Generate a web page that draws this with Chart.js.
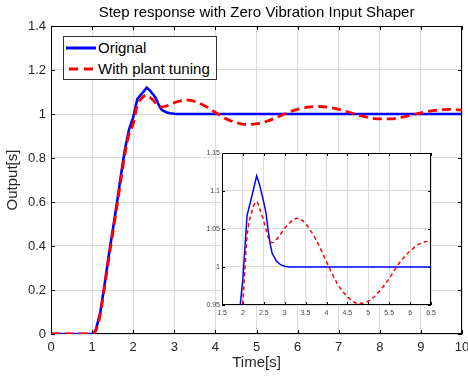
<!DOCTYPE html>
<html>
<head>
<meta charset="utf-8">
<script src="https://cdn.jsdelivr.net/npm/chart.js@4.4.1/dist/chart.umd.min.js"></script>
<style>
  body { margin: 0; background: #fff; font-family: "Liberation Sans", Arial, sans-serif; }
  #wrap { position: relative; width: 468px; height: 376px; }
  #mainChart { position: absolute; left: 0; top: 0; }
  #insetChart { position: absolute; left: 190px; top: 145px; }
  #legend {
    position: absolute; left: 63px; top: 36px; width: 152px; height: 42px;
    background: #fff; border: 1px solid #333; font-size: 15px; color: #000;
  }
  #legend .row { position: absolute; left: 0; height: 20px; line-height: 20px; }
  #legend svg { position: absolute; left: 1px; top: 0; }
  #legend span { position: absolute; left: 34px; top: 0; white-space: nowrap; }
</style>
</head>
<body>
<div id="wrap">
  <canvas id="mainChart" width="468" height="376"></canvas>
  <div id="legend">
    <div class="row" style="top:1px">
      <svg width="32" height="20"><line x1="1" y1="10" x2="31" y2="10" stroke="#0000ff" stroke-width="3"/></svg>
      <span>Orignal</span>
    </div>
    <div class="row" style="top:22px">
      <svg width="32" height="20"><line x1="4" y1="10" x2="31" y2="10" stroke="#ff0000" stroke-width="3" stroke-dasharray="9,6"/></svg>
      <span>With plant tuning</span>
    </div>
  </div>
  <canvas id="insetChart" width="250" height="175"></canvas>
</div>
<script>
// Time samples [s]
const time = [0, 0.9, 1.0, 1.05, 1.1, 1.2, 1.3, 1.4, 1.5, 1.6, 1.7, 1.8, 1.9, 2.0,
  2.1, 2.2, 2.33, 2.4, 2.5, 2.55, 2.6, 2.65, 2.7, 2.8, 2.9, 3.0, 3.1, 3.2, 3.3, 3.4,
  3.5, 3.75, 4.0, 4.25, 4.5, 4.75, 5.0, 5.25, 5.5, 5.75, 6.0, 6.25, 6.5, 6.75, 7.0,
  7.25, 7.5, 7.75, 8.0, 8.25, 8.5, 8.75, 9.0, 9.25, 9.5, 9.75, 10];

// Original response
const original = [0, 0, 0, 0.004, 0.025, 0.1, 0.22, 0.35, 0.47, 0.59, 0.72, 0.84, 0.93, 0.985,
  1.068, 1.09, 1.12, 1.108, 1.085, 1.072, 1.05, 1.031, 1.018, 1.008, 1.003, 1.001, 1.0, 1.0, 1.0, 1.0,
  1.0, 1.0, 1.0, 1.0, 1.0, 1.0, 1.0, 1.0, 1.0, 1.0, 1.0, 1.0, 1.0, 1.0, 1.0,
  1.0, 1.0, 1.0, 1.0, 1.0, 1.0, 1.0, 1.0, 1.0, 1.0, 1.0, 1.0];

// With plant tuning
const tuned = [0, 0, 0, 0.003, 0.02, 0.09, 0.21, 0.335, 0.455, 0.575, 0.70, 0.82, 0.91, 0.955,
  1.04, 1.07, 1.086, 1.077, 1.06, 1.05, 1.04, 1.034, 1.032, 1.036, 1.043, 1.051, 1.057, 1.062, 1.064, 1.062,
  1.057, 1.036, 1.007, 0.979, 0.961, 0.952, 0.955, 0.967, 0.985, 1.006, 1.021, 1.031, 1.034, 1.031, 1.021,
  1.008, 0.994, 0.983, 0.978, 0.978, 0.984, 0.994, 1.005, 1.014, 1.02, 1.021, 1.017];

const xTicks = [0, 1, 2, 3, 4, 5, 6, 7, 8, 9, 10];
const xTickLabels = ['0', '1', '2', '3', '4', '5', '6', '7', '8', '9', '10'];
const yTicks = [0, 0.2, 0.4, 0.6, 0.8, 1, 1.2, 1.4];
const yTickLabels = ['0', '0.2', '0.4', '0.6', '0.8', '1', '1.2', '1.4'];
const insetXTicks = [1.5, 2, 2.5, 3, 3.5, 4, 4.5, 5, 5.5, 6, 6.5];
const insetXTickLabels = ['1.5', '2', '2.5', '3', '3.5', '4', '4.5', '5', '5.5', '6', '6.5'];
const insetYTicks = [0.95, 1, 1.05, 1.1, 1.15];
const insetYTickLabels = ['0.95', '1', '1.05', '1.1', '1.15'];

const FONT = '"Liberation Sans", Arial, sans-serif';

function points(ys) {
  return time.map((t, i) => ({ x: t, y: ys[i] }));
}

// box frame with inward tick marks, MATLAB style
const framePlugin = {
  id: 'frame',
  beforeDraw(chart, args, opts) {
    if (!opts.fill) return;
    const a = chart.chartArea;
    chart.ctx.save();
    chart.ctx.fillStyle = opts.fill;
    chart.ctx.fillRect(a.left, a.top, a.width, a.height);
    chart.ctx.restore();
  },
  beforeDatasetsDraw(chart, args, opts) {
    const ctx = chart.ctx;
    const a = chart.chartArea;
    const x = chart.scales.x, y = chart.scales.y;
    const t = opts.tick || 4;
    ctx.save();
    ctx.strokeStyle = '#000';
    ctx.lineWidth = 1;
    ctx.strokeRect(a.left + 0.5, a.top + 0.5, a.width - 1, a.height - 1);
    ctx.beginPath();
    x.ticks.forEach(tk => {
      const px = Math.round(x.getPixelForValue(tk.value)) + 0.5;
      ctx.moveTo(px, a.bottom); ctx.lineTo(px, a.bottom - t);
      ctx.moveTo(px, a.top); ctx.lineTo(px, a.top + t);
    });
    y.ticks.forEach(tk => {
      const py = Math.round(y.getPixelForValue(tk.value)) + 0.5;
      ctx.moveTo(a.left, py); ctx.lineTo(a.left + t, py);
      ctx.moveTo(a.right, py); ctx.lineTo(a.right - t, py);
    });
    ctx.stroke();
    ctx.restore();
  }
};

function fixScale(size, isX) {
  return function(scale) {
    if (isX) scale.height = size; else scale.width = size;
    scale.paddingLeft = 0; scale.paddingRight = 0;
    scale.paddingTop = 0; scale.paddingBottom = 0;
  };
}

function labelFrom(values, labels) {
  return v => labels[values.findIndex(w => Math.abs(w - v) < 1e-9)];
}

// Main chart
new Chart(document.getElementById('mainChart').getContext('2d'), {
  type: 'line',
  data: {
    datasets: [{
      label: 'Orignal',
      data: points(original),
      borderColor: '#0000ff',
      borderWidth: 2.6,
      pointRadius: 0,
      tension: 0,
      order: 1
    }, {
      label: 'With plant tuning',
      data: points(tuned),
      borderColor: '#ff0000',
      borderWidth: 2.8,
      borderDash: [9, 5],
      pointRadius: 0,
      cubicInterpolationMode: 'monotone',
      order: 0
    }]
  },
  options: {
    responsive: false,
    animation: false,
    layout: { padding: { top: 0, right: 6, bottom: 0, left: 0 } },
    plugins: {
      legend: { display: false },
      tooltip: { enabled: false },
      title: {
        display: true,
        text: 'Step response with Zero Vibration Input Shaper',
        fullSize: false,
        color: '#000',
        font: { family: FONT, size: 15, weight: 'normal' },
        padding: { top: 4, bottom: 4 }
      },
      frame: { tick: 4 }
    },
    scales: {
      x: {
        type: 'linear',
        min: 0, max: 10,
        afterBuildTicks: s => { s.ticks = xTicks.map(v => ({ value: v })); },
        afterFit: fixScale(42, true),
        grid: { color: '#dcdcdc', drawTicks: false },
        border: { display: false },
        ticks: {
          color: '#262626', padding: 6, font: { family: FONT, size: 13 },
          callback: labelFrom(xTicks, xTickLabels)
        },
        title: { display: true, text: 'Time[s]', color: '#262626',
          font: { family: FONT, size: 15 }, padding: { top: 0, bottom: 4 } }
      },
      y: {
        type: 'linear',
        min: 0, max: 1.4,
        afterBuildTicks: s => { s.ticks = yTicks.map(v => ({ value: v })); },
        afterFit: fixScale(51, false),
        grid: { color: '#dcdcdc', drawTicks: false },
        border: { display: false },
        ticks: {
          color: '#262626', padding: 5, font: { family: FONT, size: 13 },
          callback: labelFrom(yTicks, yTickLabels)
        },
        title: { display: true, text: 'Output[s]', color: '#262626',
          font: { family: FONT, size: 15 }, padding: { top: 4, bottom: 0 } }
      }
    }
  },
  plugins: [framePlugin]
});

// Zoomed inset
new Chart(document.getElementById('insetChart').getContext('2d'), {
  type: 'line',
  data: {
    datasets: [{
      label: 'Orignal',
      data: points(original),
      borderColor: '#0000ff',
      borderWidth: 1.5,
      pointRadius: 0,
      tension: 0,
      order: 1
    }, {
      label: 'With plant tuning',
      data: points(tuned),
      borderColor: '#ff0000',
      borderWidth: 1.5,
      borderDash: [4, 3],
      pointRadius: 0,
      cubicInterpolationMode: 'monotone',
      order: 0
    }]
  },
  options: {
    responsive: false,
    animation: false,
    layout: { padding: { top: 8, right: 9, bottom: 0, left: 0 } },
    plugins: {
      legend: { display: false },
      tooltip: { enabled: false },
      frame: { tick: 3, fill: '#fff' }
    },
    scales: {
      x: {
        type: 'linear',
        min: 1.5, max: 6.5,
        afterBuildTicks: s => { s.ticks = insetXTicks.map(v => ({ value: v })); },
        afterFit: fixScale(15, true),
        grid: { color: '#dcdcdc', drawTicks: false },
        border: { display: false },
        ticks: {
          color: '#444', padding: 4, font: { family: FONT, size: 7 },
          callback: labelFrom(insetXTicks, insetXTickLabels)
        }
      },
      y: {
        type: 'linear',
        min: 0.95, max: 1.15,
        afterBuildTicks: s => { s.ticks = insetYTicks.map(v => ({ value: v })); },
        afterFit: fixScale(32, false),
        grid: { color: '#dcdcdc', drawTicks: false },
        border: { display: false },
        ticks: {
          color: '#444', padding: 2, font: { family: FONT, size: 7 },
          callback: labelFrom(insetYTicks, insetYTickLabels)
        }
      }
    }
  },
  plugins: [framePlugin]
});
</script>
</body>
</html>
